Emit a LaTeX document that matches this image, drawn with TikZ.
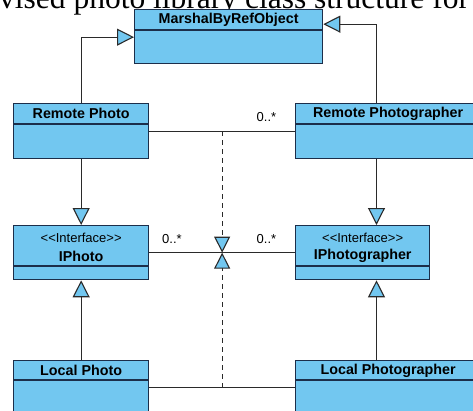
\documentclass[tikz,border=0pt]{standalone}
\usepackage{fontspec}
\setmainfont{Liberation Serif}
\setsansfont{Liberation Sans}
\usetikzlibrary{arrows.meta,calc}
\definecolor{boxblue}{HTML}{72C7F0}
\definecolor{boxline}{HTML}{1C2E4A}
\definecolor{wire}{HTML}{2A2A2A}

\begin{document}
\begin{tikzpicture}[x=1pt,y=-1pt,
  classbox/.style={draw=boxline, fill=boxblue, line width=1.3pt, rectangle,
    inner sep=0pt, anchor=north west},
  divider/.style={draw=boxline, line width=1.3pt},
  title/.style={font=\sffamily\bfseries\fontsize{14.3}{16}\selectfont, inner sep=0pt},
  stereo/.style={font=\sffamily\fontsize{13}{15}\selectfont, inner sep=0pt},
  mult/.style={font=\sffamily\fontsize{13}{15}\selectfont, inner sep=0pt},
  wire/.style={draw=wire, line width=1.1pt},
  gen/.style={wire, -{Triangle[length=17pt,width=17pt,fill=boxblue,line width=1.1pt]}},
  dep/.style={wire, dash pattern=on 5pt off 4pt,
    -{Triangle[length=16pt,width=16pt,fill=boxblue,line width=1.1pt]}}
]
\useasboundingbox (0,0) rectangle (473,410);
\begin{scope}
\clip (0,0) rectangle (473,410);

% caption line running across the top edge
\node[font=\fontsize{31.5}{34}\selectfont, anchor=base west, inner sep=0pt]
  (caption) at (-1,8.5) {vised photo library class structure for};

% classes
\node[classbox, minimum width=188pt, minimum height=54pt] (mbro) at (134,9) {};
\draw[divider] ([yshift=-21pt]mbro.north west) -- ([yshift=-21pt]mbro.north east);
\node[title] (mbroT) at ([yshift=-11pt]mbro.north) {MarshalByRefObject};

\node[classbox, minimum width=135pt, minimum height=55pt] (rp) at (13,103) {};
\draw[divider] ([yshift=-21pt]rp.north west) -- ([yshift=-21pt]rp.north east);
\node[title] (rpT) at ([yshift=-10.5pt]rp.north) {Remote Photo};

\node[classbox, minimum width=185pt, minimum height=55pt] (rph) at (295,103) {};
\draw[divider] ([yshift=-21pt]rph.north west) -- ([yshift=-21pt]rph.north east);
\node[title] (rphT) at ([yshift=-10.5pt]rph.north) {Remote Photographer};

\node[classbox, minimum width=135pt, minimum height=54pt] (ip) at (13,225) {};
\draw[divider] ([yshift=-41pt]ip.north west) -- ([yshift=-41pt]ip.north east);
\node[stereo] (ipS) at ([yshift=-12.5pt]ip.north) {<{}<Interface>{}>};
\node[title] (ipT) at ([yshift=-31pt]ip.north) {IPhoto};

\node[classbox, minimum width=134pt, minimum height=54pt] (iph) at (295,225) {};
\draw[divider] ([yshift=-41pt]iph.north west) -- ([yshift=-41pt]iph.north east);
\node[stereo] (iphS) at ([yshift=-12.5pt]iph.north) {<{}<Interface>{}>};
\node[title] (iphT) at ([yshift=-31pt]iph.north) {IPhotographer};

\node[classbox, minimum width=135pt, minimum height=54pt] (lp) at (13,360) {};
\draw[divider] ([yshift=-20pt]lp.north west) -- ([yshift=-20pt]lp.north east);
\node[title] (lpT) at ([yshift=-10.5pt]lp.north) {Local Photo};

\node[classbox, minimum width=185pt, minimum height=54pt] (lph) at (295,360) {};
\draw[divider] ([yshift=-20pt]lph.north west) -- ([yshift=-20pt]lph.north east);
\node[title] (lphT) at ([yshift=-10.5pt]lph.north) {Local Photographer};

% generalisations
\draw[gen] (rp.north) |- ([yshift=-0.5pt]mbro.west);
\draw[gen] ([xshift=81.5pt]rph.north west) |- ([yshift=12.5pt]mbro.east);
\draw[gen] (rp.south) -- (ip.north);
\draw[gen] ([xshift=81.5pt]rph.south west) -- ([xshift=81.5pt]iph.north west);
\draw[gen] (lp.north) -- (ip.south);
\draw[gen] ([xshift=81.5pt]lph.north west) -- ([xshift=81.5pt]iph.south west);

% associations
\draw[wire] (rp.east) -- (rph.west);
\draw[wire] (ip.east) -- (iph.west);
\draw[wire] (lp.east) -- (lph.west);

\coordinate (ra) at ($(rp.east)!0.5!(rph.west)$);
\coordinate (ia) at ($(ip.east)!0.5!(iph.west)$);
\coordinate (la) at ($(lp.east)!0.5!(lph.west)$);
\draw[dep] (ra) -- (ia);
\draw[dep] (la) -- (ia);

% multiplicities
\node[mult] (m1) at (266.5,117) {0..*};
\node[mult] (m2) at (172,239) {0..*};
\node[mult] (m3) at (266.5,239) {0..*};
\end{scope}
\end{tikzpicture}
\end{document}
